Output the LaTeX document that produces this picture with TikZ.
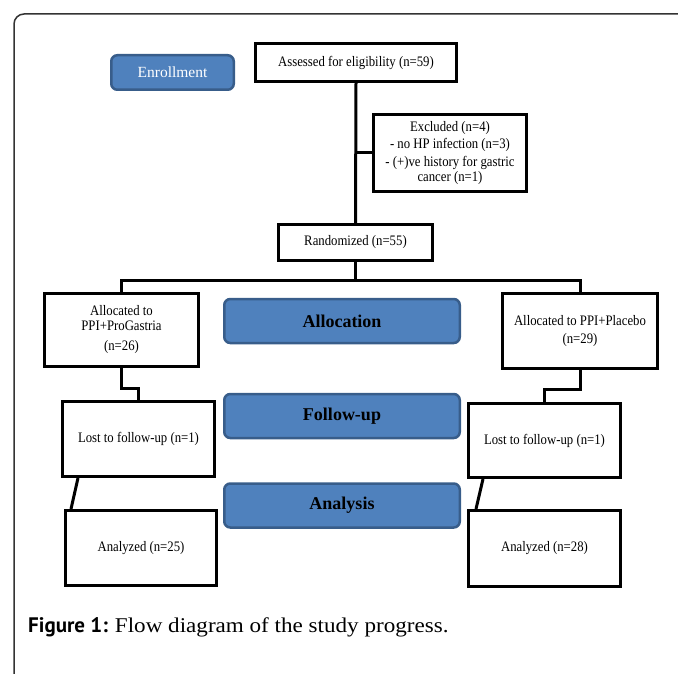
\documentclass[tikz,border=0pt]{standalone}
\usepackage{fontspec}
\setmainfont{Liberation Serif}
\newfontfamily\capfont{PT Sans}
\newfontfamily\capserif[FakeStretch=1.1]{Liberation Serif}
\newfontfamily\boxfont[FakeStretch=0.88]{Liberation Serif}
\usepackage{xcolor}
\definecolor{phasefill}{HTML}{4F81BD}
\definecolor{phaseline}{HTML}{385D8A}
\definecolor{framegray}{HTML}{333333}
\usepackage{tikz}
\usetikzlibrary{positioning}

\begin{document}
\begin{tikzpicture}[x=1pt, y=-1pt,
  flowbox/.style={draw, line width=3pt, fill=white, inner sep=1pt, align=center,
    font=\boxfont\fontsize{14.5}{17.5}\selectfont},
  phase/.style={draw=phaseline, line width=2.5pt, fill=phasefill, rounded corners=6pt,
    minimum width=235.5pt, minimum height=44pt, font=\fontsize{18}{20}\selectfont\bfseries},
  link/.style={line width=3pt}
]
  \useasboundingbox (0,0) rectangle (678,674);
  \draw[framegray, line width=1.5pt, rounded corners=10pt] (14,674) -- (14,14) -- (678,14);

  % phases
  \node[phase, minimum width=122.5pt, minimum height=34.5pt, text=white,
    font=\fontsize{15.5}{17}\selectfont] (enroll) at (172.5,72.5) {Enrollment};
  \node[phase] (allocation) at (342,321)   {Allocation};
  \node[phase] (followup)   at (342,416)   {Follow-up};
  \node[phase] (analysis)   at (342,505.5) {Analysis};

  % enrollment
  \node[flowbox, minimum width=201pt, minimum height=38pt]
    (assess) at (356,62.5) {Assessed for eligibility (n=59)};
  \node[flowbox, minimum width=153pt, minimum height=77pt]
    (excl) at (450,153) {Excluded (n=4)\\- no HP infection (n=3)\\- (+)ve history for gastric\\[-2pt]cancer (n=1)};
  \node[flowbox, minimum width=154pt, minimum height=36pt]
    (rand) at (355.5,242.5) {Randomized (n=55)};

  % arms
  \node[flowbox, minimum width=154pt, minimum height=73pt]
    (allocA) at (121.5,330) {Allocated to\\[-2.5pt]PPI+ProGastria\\[2.5pt](n=26)};
  \node[flowbox, minimum width=155pt, minimum height=75pt]
    (allocB) at (580,331) {Allocated to PPI+Placebo\\(n=29)};
  \node[flowbox, minimum width=152pt, minimum height=75pt]
    (lostA) at (138.5,439) {Lost to follow-up (n=1)};
  \node[flowbox, minimum width=152pt, minimum height=74pt]
    (lostB) at (544.5,440.5) {Lost to follow-up (n=1)};
  \node[flowbox, minimum width=151pt, minimum height=75pt]
    (anaA) at (141,548) {Analyzed (n=25)};
  \node[flowbox, minimum width=152pt, minimum height=76pt]
    (anaB) at (544.5,548.5) {Analyzed (n=28)};

  \draw[link] (assess.south) -- (rand.north);
  \draw[link] (assess.south |- excl.west) -- (excl.west);
  \draw[link] (rand.south) -- ++(0,18) coordinate (split);
  \draw[link] (allocA.north) |- (split) -| (allocB.north);
  \draw[link] (allocA.south) -- ++(0,20) -| (lostA.north);
  \draw[link] (allocB.south) -- ++(0,19) -| (lostB.north);
  \draw[link] ([xshift=17pt]lostA.south west) -- ([xshift=7pt]anaA.north west);
  \draw[link] ([xshift=16pt]lostB.south west) -- ([xshift=9pt]anaB.north west);

  \node[anchor=base west, inner sep=0pt, font=\fontsize{21}{24}\selectfont]
    (caption) at (28,632) {{\capfont\bfseries Figure 1:} \capserif Flow diagram of the study progress.};
\end{tikzpicture}
\end{document}
